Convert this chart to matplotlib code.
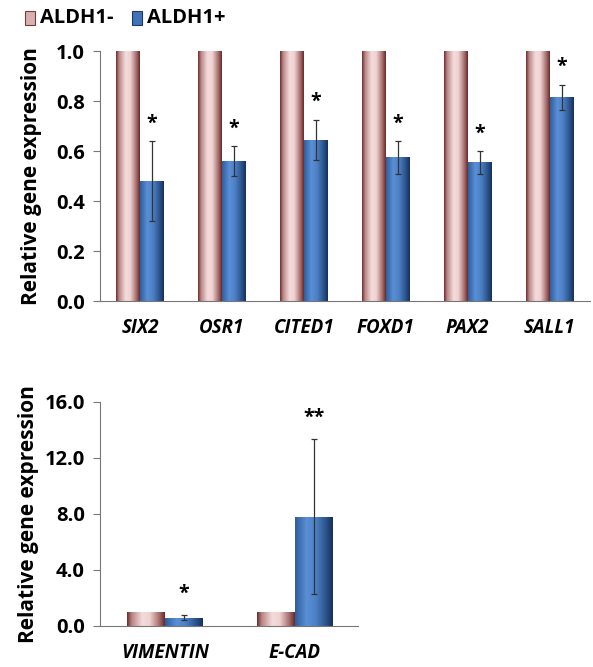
import numpy as np
import matplotlib.pyplot as plt
from matplotlib.colors import LinearSegmentedColormap
from matplotlib.patches import Rectangle

plt.rcParams['font.family'] = ['Open Sans', 'DejaVu Sans']

# top panel data
genes1 = ["SIX2", "OSR1", "CITED1", "FOXD1", "PAX2", "SALL1"]
neg1 = [1.0, 1.0, 1.0, 1.0, 1.0, 1.0]
pos1 = [0.48, 0.56, 0.645, 0.575, 0.555, 0.815]
pos1_err = [0.16, 0.06, 0.08, 0.065, 0.045, 0.05]
stars1 = ["*", "*", "*", "*", "*", "*"]

# bottom panel data
genes2 = ["VIMENTIN", "E-CAD"]
neg2 = [1.0, 1.0]
pos2 = [0.6, 7.8]
pos2_err = [0.2, 5.55]
stars2 = ["*", "**"]

pink_cm = LinearSegmentedColormap.from_list(
    "pink", [(0, "#6e2e2e"), (0.12, "#b98585"), (0.4, "#f4dcdc"),
             (0.6, "#f0d2d2"), (0.85, "#a87070"), (1, "#6a2a2a")])
blue_cm = LinearSegmentedColormap.from_list(
    "blue", [(0, "#2f5e9e"), (0.3, "#5a8fd6"), (0.55, "#4c80c6"),
             (0.85, "#284f86"), (1, "#16305a")])
grad = np.linspace(0, 1, 64).reshape(1, -1)


def shade_bars(ax, bars, cmap):
    for b in bars:
        x, y = b.get_x(), b.get_y()
        w, h = b.get_width(), b.get_height()
        im = ax.imshow(grad, cmap=cmap, extent=[x, x + w, y, y + h],
                       aspect='auto', interpolation='bilinear', zorder=2)
        clip = Rectangle((x, y), w, h, transform=ax.transData)
        im.set_clip_path(clip)
        b.set_alpha(0)


def style(ax):
    for s in ["top", "right"]:
        ax.spines[s].set_visible(False)
    ax.spines["left"].set_color("#777777")
    ax.spines["bottom"].set_color("#777777")
    ax.tick_params(axis="x", length=0, pad=12)
    ax.tick_params(axis="y", direction="out", length=5, color="#777777", pad=6)
    for t in ax.get_yticklabels():
        t.set_fontsize(14.5)
        t.set_fontweight("bold")
    for t in ax.get_xticklabels():
        t.set_fontsize(13.5)
        t.set_fontweight("bold")
        t.set_fontstyle("italic")


fig = plt.figure(figsize=(5.93, 6.67), dpi=100)
w = 0.29

ax1 = fig.add_axes([0.1686, 0.5487, 0.826, 0.3748])
x1 = np.arange(len(genes1))
b1 = ax1.bar(x1 - w / 2, neg1, w, color="#e8c8c8")
b2 = ax1.bar(x1 + w / 2, pos1, w, color="#4a7fc4")
ax1.errorbar(x1 + w / 2, pos1, yerr=pos1_err, fmt="none", ecolor="#333333",
             elinewidth=0.9, capsize=2, capthick=0.9, zorder=3)
for xi, v, e, s in zip(x1, pos1, pos1_err, stars1):
    ax1.text(xi + w / 2, v + e + 0.03, s, ha="center", va="bottom",
             fontsize=14, fontweight="bold")
ax1.set_xlim(-0.49, 5.49)
ax1.set_ylim(0, 1.0)
ax1.set_yticks(np.arange(0, 1.01, 0.2))
ax1.set_yticklabels(["%.1f" % v for v in np.arange(0, 1.01, 0.2)])
ax1.set_xticks(x1)
ax1.set_xticklabels(genes1)
ax1.set_ylabel("Relative gene expression", fontsize=15, fontweight="bold",
               labelpad=10)
shade_bars(ax1, b1, pink_cm)
shade_bars(ax1, b2, blue_cm)
style(ax1)

ax2 = fig.add_axes([0.1686, 0.0615, 0.435, 0.336])
x2 = np.arange(len(genes2))
c1 = ax2.bar(x2 - w / 2, neg2, w, color="#e8c8c8")
c2 = ax2.bar(x2 + w / 2, pos2, w, color="#4a7fc4")
ax2.errorbar(x2 + w / 2, pos2, yerr=pos2_err, fmt="none", ecolor="#333333",
             elinewidth=0.9, capsize=2, capthick=0.9, zorder=3)
for xi, v, e, s in zip(x2, pos2, pos2_err, stars2):
    ax2.text(xi + w / 2, v + e + 0.8, s, ha="center", va="bottom",
             fontsize=14, fontweight="bold")
ax2.set_xlim(-0.5, 1.485)
ax2.set_ylim(0, 16)
ax2.set_yticks(np.arange(0, 16.1, 4))
ax2.set_yticklabels(["%.1f" % v for v in np.arange(0, 16.1, 4)])
ax2.set_xticks(x2)
ax2.set_xticklabels(genes2)
ax2.set_ylabel("Relative gene expression", fontsize=15, fontweight="bold",
               labelpad=4)
shade_bars(ax2, c1, pink_cm)
shade_bars(ax2, c2, blue_cm)
style(ax2)

# legend
fig.patches.append(Rectangle((0.042, 0.962), 0.017, 0.022, transform=fig.transFigure,
                             facecolor="#d9b0b0", edgecolor="#7a3a3a", lw=0.8))
fig.text(0.068, 0.973, "ALDH1-", fontsize=14.5, fontweight="bold", va="center")
fig.patches.append(Rectangle((0.222, 0.962), 0.017, 0.022, transform=fig.transFigure,
                             facecolor="#3f72b8", edgecolor="#1f3a66", lw=0.8))
fig.text(0.248, 0.973, "ALDH1+", fontsize=14.5, fontweight="bold", va="center")

fig.savefig("out.png", dpi=100)
